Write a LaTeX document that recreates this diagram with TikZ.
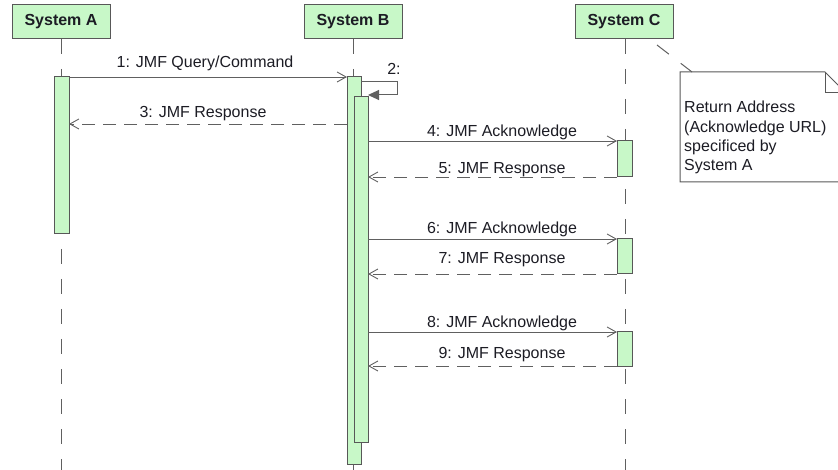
\documentclass[tikz,border=0pt]{standalone}
\usepackage{fontspec}
\setmainfont{Liberation Sans}
\usetikzlibrary{arrows.meta}
\definecolor{boxfill}{RGB}{200,248,200}
\definecolor{boxline}{RGB}{88,88,88}
\definecolor{msgline}{RGB}{96,96,96}
\definecolor{txt}{RGB}{28,28,36}
\newcommand{\diagfont}{\fontsize{16}{19.4}\selectfont}
\tikzset{
  actor/.style={draw=boxline, fill=boxfill, line width=1pt, minimum width=98pt,
    minimum height=34pt, inner sep=0pt, outer sep=0pt, font=\diagfont\bfseries, text=txt},
  act/.style={draw=boxline, fill=boxfill, line width=1pt, inner sep=0pt, outer sep=0pt,
    anchor=north},
  life/.style={draw=msgline, line width=1pt, dash pattern=on 15pt off 15pt},
  msg/.style={draw=msgline, line width=0.9pt, -{Straight Barb[length=9pt,width=10pt]}},
  reply/.style={msg, dash pattern=on 13pt off 8pt},
  selfmsg/.style={draw=msgline, line width=1pt, -{Triangle[length=11pt,width=10pt]}},
  lbl/.style={anchor=base, inner sep=0pt, text=txt},
  note/.style={draw=boxline, fill=white, line width=1pt}
}
\begin{document}
\begin{tikzpicture}[x=1pt, y=-1pt, font=\diagfont]
\useasboundingbox (0,0) rectangle (838,470);
\clip (0,0) rectangle (838,470);

% participants
\node[actor] (sysA) at (61,22) {\raisebox{2pt}{System A}};
\node[actor] (sysB) at (353,22) {\raisebox{2pt}{System B}};
\node[actor] (sysC) at (624,22) {\raisebox{2pt}{System C}};

% lifelines
\coordinate (endA) at (61,470);
\coordinate (endB) at (353,470);
\coordinate (endC) at (625,470);
\draw[life] (sysA.south) -- (endA);
\draw[life] (sysB.south) -- (endB);
\draw[life] ([xshift=1pt]sysC.south) -- (endC);

% activation bars
\node[act, minimum width=15pt, minimum height=157pt] (actA) at (61.5,77) {};
\node[act, minimum width=14pt, minimum height=387pt] (actB) at (354,77) {};
\node[act, minimum width=14pt, minimum height=345pt] (actB2) at (361,97) {};
\node[act, minimum width=15pt, minimum height=36pt] (actC1) at (624.5,141) {};
\node[act, minimum width=15pt, minimum height=35pt] (actC2) at (624.5,239) {};
\node[act, minimum width=15pt, minimum height=34pt] (actC3) at (624.5,332) {};

% 1: query
\draw[msg] (actA.north east) -- (actB.north west);
\node[lbl] (l1) at (205,68) {1: JMF Query/Command};

% 2: self call
\coordinate (selfA) at (397,82);
\coordinate (selfB) at (397,95);
\draw[selfmsg] (actB.east |- selfA) -- (selfA) -- (selfB) -- (actB2.east |- selfB);
\node[lbl] (l2) at (394,75) {2:};

% 3: response to A
\coordinate (r3) at (0,124);
\draw[reply] (actB.west |- r3) -- (actA.east |- r3);
\node[lbl] (l3) at (203,118) {3: JMF Response};

% 4-9: acknowledge / response pairs with C
\draw[msg] (actB2.east |- actC1.north) -- (actC1.north west);
\node[lbl] (l4) at (502,137) {4: JMF Acknowledge};
\draw[reply] (actC1.south west) -- (actB2.east |- actC1.south);
\node[lbl] (l5) at (502,174) {5: JMF Response};

\draw[msg] (actB2.east |- actC2.north) -- (actC2.north west);
\node[lbl] (l6) at (502,234) {6: JMF Acknowledge};
\draw[reply] (actC2.south west) -- (actB2.east |- actC2.south);
\node[lbl] (l7) at (502,264) {7: JMF Response};

\draw[msg] (actB2.east |- actC3.north) -- (actC3.north west);
\node[lbl] (l8) at (502,327) {8: JMF Acknowledge};
\draw[reply] (actC3.south west) -- (actB2.east |- actC3.south);
\node[lbl] (l9) at (502,359) {9: JMF Response};

% note with folded corner
\draw[note] (680,72) -- (825,72) -- (846,93) -- (846,182) -- (680,182) -- cycle;
\draw[note, fill=none] (825,72) -- (825,93) -- (846,93);
\coordinate (noteTop) at (692,72);
\coordinate (noteLink) at (657,45);
\draw[life] (noteLink) -- (noteTop);
\node[anchor=north west, align=left, inner sep=0pt, text=txt] (noteText) at (684,101)
  {Return Address\\(Acknowledge URL)\\specificed by\\System A};
\end{tikzpicture}
\end{document}
